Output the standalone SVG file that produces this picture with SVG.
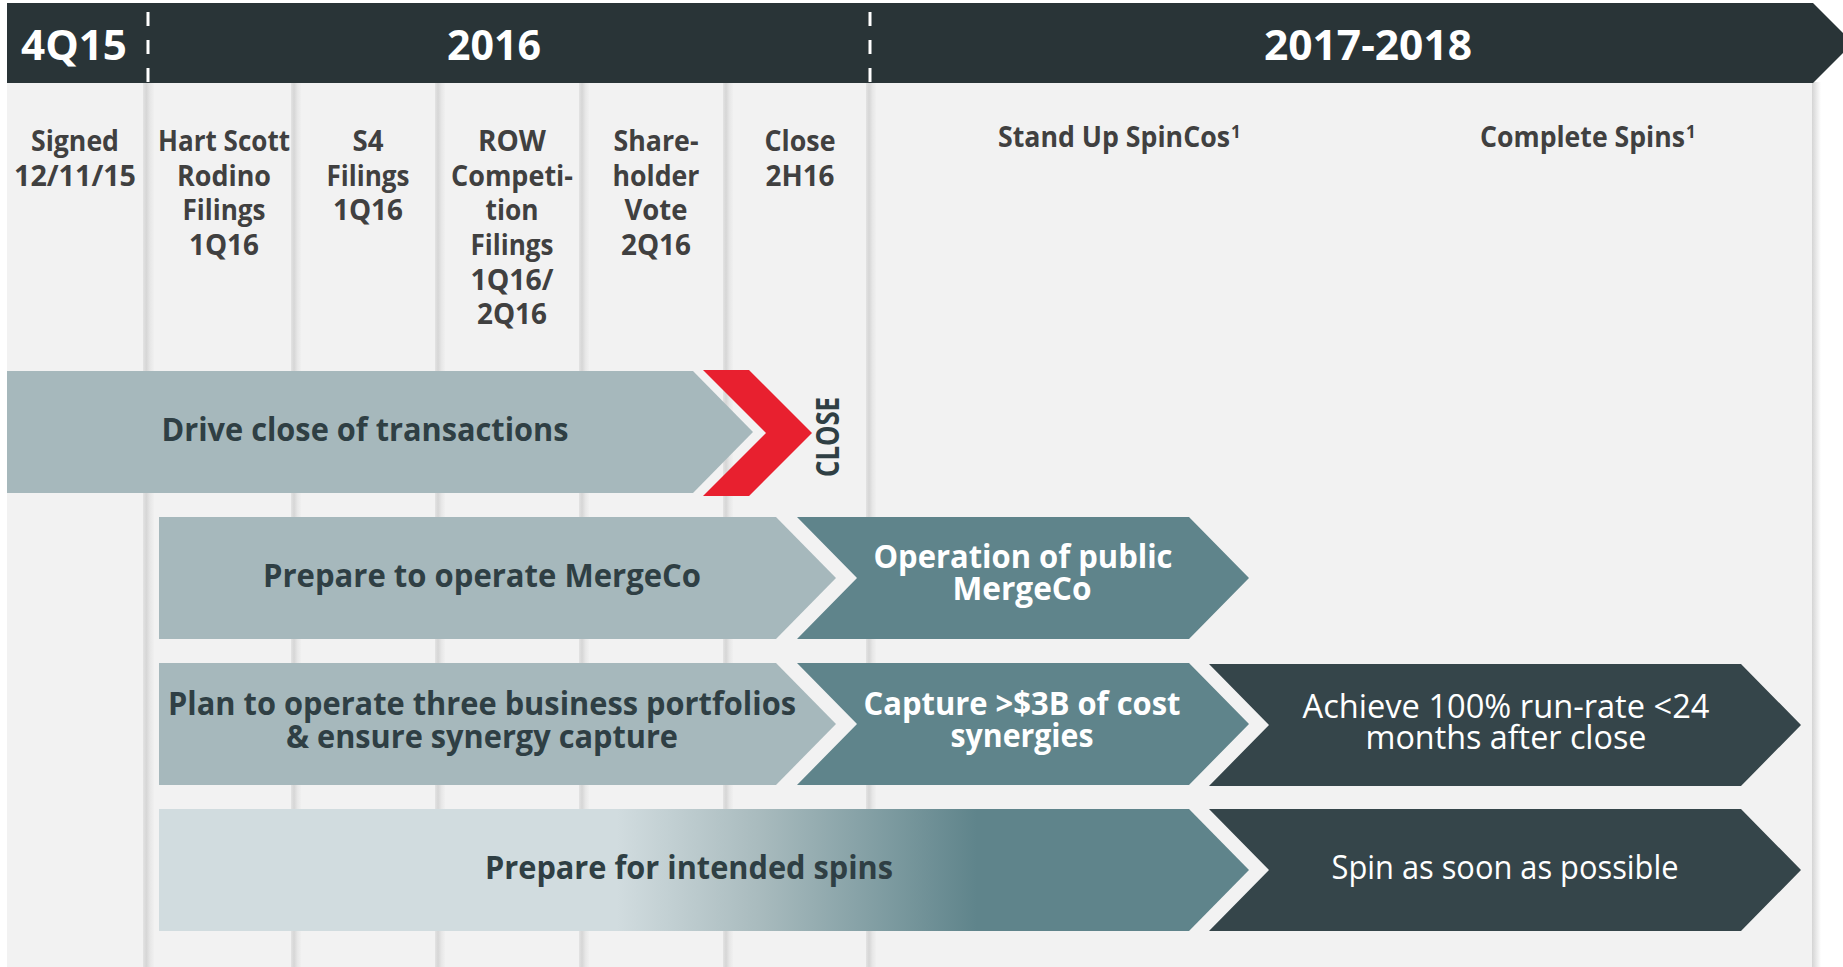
<svg xmlns="http://www.w3.org/2000/svg" width="1843" height="967" viewBox="0 0 1843 967">
  <defs>
    <!-- soft vertical column divider -->
    <linearGradient id="sep" x1="0" y1="0" x2="1" y2="0">
      <stop offset="0" stop-color="#e3e3e3"/>
      <stop offset="0.3" stop-color="#d6d6d6"/>
      <stop offset="0.65" stop-color="#e7e7e7"/>
      <stop offset="1" stop-color="#f0f0f0"/>
    </linearGradient>
    <!-- right-hand panel shadow -->
    <linearGradient id="edge" x1="0" y1="0" x2="1" y2="0">
      <stop offset="0" stop-color="#d4d4d4"/>
      <stop offset="1" stop-color="#ffffff"/>
    </linearGradient>
    <!-- light-to-teal fade of the spin preparation bar -->
    <linearGradient id="spinFade" gradientUnits="userSpaceOnUse" x1="159" y1="0" x2="1249" y2="0">
      <stop offset="0" stop-color="#d1dcdf"/>
      <stop offset="0.42" stop-color="#d1dcdf"/>
      <stop offset="0.55" stop-color="#a9bbbe"/>
      <stop offset="0.65" stop-color="#84a0a5"/>
      <stop offset="0.75" stop-color="#5f848b"/>
      <stop offset="1" stop-color="#5f848b"/>
    </linearGradient>
  </defs>
  <style>
    text { font-family: "Open Sans", "Liberation Sans", sans-serif; }
    .hdr { font-size: 41px; font-weight: 700; fill: #ffffff; text-anchor: middle; }
    .lbl { font-size: 29px; font-weight: 700; fill: #404040; text-anchor: middle; }
    .phase { font-size: 29px; font-weight: 700; fill: #404040; }
    .sup { font-size: 17px; }
    .dk { font-size: 33px; font-weight: 700; fill: #2f3f44; text-anchor: middle; }
    .wb { font-size: 33px; font-weight: 700; fill: #ffffff; text-anchor: middle; }
    .wr { font-size: 33px; font-weight: 400; fill: #ffffff; text-anchor: middle; }
    .light { fill: #a6b8bc; }
    .teal { fill: #5f848b; }
    .dark { fill: #35454a; }
    .divider { fill: url(#sep); }
    .dash { stroke: #ffffff; stroke-width: 3; stroke-dasharray: 14 14; }
  </style>

  <!-- page and timeline panel -->
  <rect x="0" y="0" width="1843" height="967" fill="#ffffff"/>
  <rect x="7" y="82" width="1805" height="885" fill="#f2f2f2"/>
  <rect x="1812" y="82" width="9" height="885" fill="url(#edge)"/>

  <!-- column dividers -->
  <g id="dividers">
    <rect class="divider" x="143" y="82" width="11" height="885"/>
    <rect class="divider" x="291" y="82" width="10" height="885"/>
    <rect class="divider" x="435" y="82" width="10" height="885"/>
    <rect class="divider" x="579" y="82" width="10" height="885"/>
    <rect class="divider" x="723" y="82" width="10" height="885"/>
    <rect class="divider" x="866" y="82" width="10" height="885"/>
  </g>

  <!-- period header -->
  <g id="header">
    <polygon points="7,3 1813,3 1853,43 1813,83 7,83" fill="#293437"/>
    <line class="dash" x1="148" y1="12" x2="148" y2="83"/>
    <line class="dash" x1="870" y1="12" x2="870" y2="83"/>
    <text class="hdr" x="74" y="60" textLength="106" lengthAdjust="spacingAndGlyphs">4Q15</text>
    <text class="hdr" x="494" y="60" textLength="94" lengthAdjust="spacingAndGlyphs">2016</text>
    <text class="hdr" x="1368" y="60" textLength="208" lengthAdjust="spacingAndGlyphs">2017-2018</text>
  </g>

  <!-- milestone column labels -->
  <g id="milestones">
    <g id="m-signed">
      <text class="lbl" x="75" y="151" textLength="88" lengthAdjust="spacingAndGlyphs">Signed</text>
      <text class="lbl" x="75" y="186" textLength="122" lengthAdjust="spacingAndGlyphs">12/11/15</text>
    </g>
    <g id="m-hsr">
      <text class="lbl" x="224" y="151" textLength="132" lengthAdjust="spacingAndGlyphs">Hart Scott</text>
      <text class="lbl" x="224" y="186" textLength="94" lengthAdjust="spacingAndGlyphs">Rodino</text>
      <text class="lbl" x="224" y="220" textLength="83" lengthAdjust="spacingAndGlyphs">Filings</text>
      <text class="lbl" x="224" y="255" textLength="70" lengthAdjust="spacingAndGlyphs">1Q16</text>
    </g>
    <g id="m-s4">
      <text class="lbl" x="368" y="151" textLength="31" lengthAdjust="spacingAndGlyphs">S4</text>
      <text class="lbl" x="368" y="186" textLength="83" lengthAdjust="spacingAndGlyphs">Filings</text>
      <text class="lbl" x="368" y="220" textLength="70" lengthAdjust="spacingAndGlyphs">1Q16</text>
    </g>
    <g id="m-row">
      <text class="lbl" x="512" y="151" textLength="68" lengthAdjust="spacingAndGlyphs">ROW</text>
      <text class="lbl" x="512" y="186" textLength="122" lengthAdjust="spacingAndGlyphs">Competi-</text>
      <text class="lbl" x="512" y="220" textLength="53" lengthAdjust="spacingAndGlyphs">tion</text>
      <text class="lbl" x="512" y="255" textLength="83" lengthAdjust="spacingAndGlyphs">Filings</text>
      <text class="lbl" x="512" y="290" textLength="83" lengthAdjust="spacingAndGlyphs">1Q16/</text>
      <text class="lbl" x="512" y="324" textLength="70" lengthAdjust="spacingAndGlyphs">2Q16</text>
    </g>
    <g id="m-vote">
      <text class="lbl" x="656" y="151" textLength="85" lengthAdjust="spacingAndGlyphs">Share-</text>
      <text class="lbl" x="656" y="186" textLength="87" lengthAdjust="spacingAndGlyphs">holder</text>
      <text class="lbl" x="656" y="220" textLength="63" lengthAdjust="spacingAndGlyphs">Vote</text>
      <text class="lbl" x="656" y="255" textLength="70" lengthAdjust="spacingAndGlyphs">2Q16</text>
    </g>
    <g id="m-close">
      <text class="lbl" x="800" y="151" textLength="71" lengthAdjust="spacingAndGlyphs">Close</text>
      <text class="lbl" x="800" y="186" textLength="69" lengthAdjust="spacingAndGlyphs">2H16</text>
    </g>
    <text id="p-standup" class="phase" x="998" y="147"><tspan textLength="232" lengthAdjust="spacingAndGlyphs">Stand Up SpinCos</tspan><tspan class="sup" dx="1" dy="-9">1</tspan></text>
    <text id="p-complete" class="phase" x="1480" y="147"><tspan textLength="205" lengthAdjust="spacingAndGlyphs">Complete Spins</tspan><tspan class="sup" dx="1" dy="-9">1</tspan></text>
  </g>

  <!-- workstream bars -->
  <g id="drive-close">
    <polygon class="light" points="7,371 693,371 753,432 693,493 7,493"/>
    <text class="dk" x="365" y="441" textLength="407" lengthAdjust="spacingAndGlyphs">Drive close of transactions</text>
  </g>

  <g id="close-marker">
    <polygon points="703,370 749,370 812,433 749,496 703,496 766,433" fill="#e8202f"/>
    <text class="dk" font-size="28" transform="translate(839,437) rotate(-90)" textLength="80" lengthAdjust="spacingAndGlyphs">CLOSE</text>
  </g>

  <g id="prepare-mergeco">
    <polygon class="light" points="159,517 776,517 836,578 776,639 159,639"/>
    <text class="dk" x="482" y="587" textLength="438" lengthAdjust="spacingAndGlyphs">Prepare to operate MergeCo</text>
  </g>

  <g id="operate-mergeco">
    <polygon class="teal" points="797,517 1189,517 1249,578 1189,639 797,639 857,578"/>
    <text class="wb" x="1023" y="568" textLength="299" lengthAdjust="spacingAndGlyphs">Operation of public</text>
    <text class="wb" x="1022" y="600" textLength="139" lengthAdjust="spacingAndGlyphs">MergeCo</text>
  </g>

  <g id="plan-portfolios">
    <polygon class="light" points="159,663 776,663 836,724 776,785 159,785"/>
    <text class="dk" x="482" y="715" textLength="628" lengthAdjust="spacingAndGlyphs">Plan to operate three business portfolios</text>
    <text class="dk" x="482" y="748" textLength="392" lengthAdjust="spacingAndGlyphs">&amp; ensure synergy capture</text>
  </g>

  <g id="capture-synergies">
    <polygon class="teal" points="797,663 1189,663 1249,724 1189,785 797,785 857,724"/>
    <text class="wb" x="1022" y="715" textLength="317" lengthAdjust="spacingAndGlyphs">Capture &gt;$3B of cost</text>
    <text class="wb" x="1022" y="747" textLength="143" lengthAdjust="spacingAndGlyphs">synergies</text>
  </g>

  <g id="run-rate">
    <polygon class="dark" points="1209,664 1741,664 1801,725 1741,786 1209,786 1269,725"/>
    <text class="wr" x="1506" y="718" textLength="407" lengthAdjust="spacingAndGlyphs">Achieve 100% run-rate &lt;24</text>
    <text class="wr" x="1506" y="749" textLength="281" lengthAdjust="spacingAndGlyphs">months after close</text>
  </g>

  <g id="prepare-spins">
    <polygon points="159,809 1189,809 1249,870 1189,931 159,931" fill="url(#spinFade)"/>
    <text class="dk" x="689" y="879" textLength="408" lengthAdjust="spacingAndGlyphs">Prepare for intended spins</text>
  </g>

  <g id="spin-asap">
    <polygon class="dark" points="1209,809 1741,809 1801,870 1741,931 1209,931 1269,870"/>
    <text class="wr" x="1505" y="879" textLength="347" lengthAdjust="spacingAndGlyphs">Spin as soon as possible</text>
  </g>

  <g id="connectors"/>
</svg>
